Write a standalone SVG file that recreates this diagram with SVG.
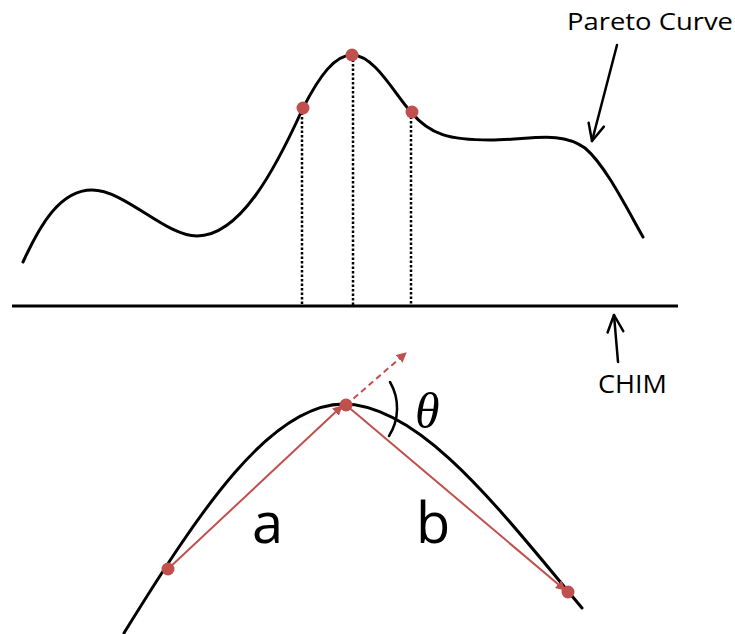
<svg xmlns="http://www.w3.org/2000/svg" width="735" height="634" viewBox="0 0 735 634">
<style>
.curve{fill:none;stroke:#000;stroke-width:3;stroke-linecap:round}
.axis{fill:none;stroke:#000;stroke-width:3}
.dotted{fill:none;stroke:#000;stroke-width:2.5;stroke-dasharray:2.5 2}
.red{fill:none;stroke:#c0504d;stroke-width:2}
.dot{fill:#c0504d}
.blk{fill:none;stroke:#000;stroke-width:2.5;stroke-linecap:round}
.lbl{font-family:"Open Sans","Liberation Sans",Arial,sans-serif;fill:#000}
</style>
<defs>
<marker id="redhead" viewBox="0 0 10 10" refX="9" refY="5" markerWidth="5" markerHeight="5" orient="auto" markerUnits="strokeWidth">
<path d="M0,0 L10,5 L0,10 z" fill="#c0504d"/>
</marker>
<marker id="blkhead" viewBox="0 0 10 10" refX="9" refY="5" markerWidth="9" markerHeight="9" orient="auto" markerUnits="strokeWidth">
<path d="M1.5,1.5 L9,5 L1.5,8.5" fill="none" stroke="#000" stroke-width="1.1" stroke-linecap="round" stroke-linejoin="round"/>
</marker>
</defs>
<rect width="735" height="634" fill="#fff"/>
<g id="pareto-curve">
<path class="curve" d="M23,262 C40,225 60,190 92,190 C125,190 165,236 197,236 C240,236 275,170 303,108 C320,75 335,55 352,55 C375,55 395,95 411,112 C430,135 450,140 490,140 C530,140 560,130 585,148 C605,165 625,205 643,237"/>
</g>
<g id="chim-axis">
<line class="axis" x1="12" y1="306" x2="678" y2="306"/>
</g>
<g id="projections">
<line class="dotted" x1="302" y1="108" x2="302" y2="306"/>
<line class="dotted" x1="353" y1="55" x2="353" y2="306"/>
<line class="dotted" x1="411" y1="112" x2="411" y2="306"/>
</g>
<g id="top-points">
<circle class="dot" cx="303" cy="108" r="6.5"/>
<circle class="dot" cx="352" cy="55" r="6.5"/>
<circle class="dot" cx="412" cy="112" r="6.5"/>
</g>
<g id="label-pareto">
<text class="lbl" x="567" y="30" font-size="24" textLength="166" lengthAdjust="spacingAndGlyphs">Pareto Curve</text>
</g>
<g id="label-chim">
<text class="lbl" x="598" y="393" font-size="25" textLength="69" lengthAdjust="spacingAndGlyphs">CHIM</text>
</g>
<g id="bottom-curve">
<path class="curve" d="M124,633 C200,510 270,405 343,404 C420,404 500,510 582,608"/>
</g>
<g id="connectors">
<line class="blk" x1="617" y1="45" x2="592" y2="141" marker-end="url(#blkhead)"/>
<line class="blk" x1="618" y1="362" x2="614" y2="315" marker-end="url(#blkhead)"/>
<line class="red" x1="168" y1="569" x2="342" y2="406" marker-end="url(#redhead)"/>
<line class="red" x1="346" y1="405" x2="565" y2="590" marker-end="url(#redhead)"/>
<line class="red" x1="346" y1="405" x2="406" y2="353" stroke-dasharray="6 4" marker-end="url(#redhead)"/>
<path class="blk" d="M390,382 A52,52 0 0 1 389,436"/>
</g>
<g id="bottom-points">
<circle class="dot" cx="168" cy="569" r="6.5"/>
<circle class="dot" cx="346" cy="405" r="6.5"/>
<circle class="dot" cx="568" cy="592" r="6.5"/>
</g>
<g id="labels-bottom">
<text class="lbl" x="252" y="543" font-size="56">a</text>
<text class="lbl" x="416" y="543" font-size="56">b</text>
<text x="415" y="428" font-family="Liberation Serif,serif" font-style="italic" font-size="50">θ</text>
</g>
</svg>
